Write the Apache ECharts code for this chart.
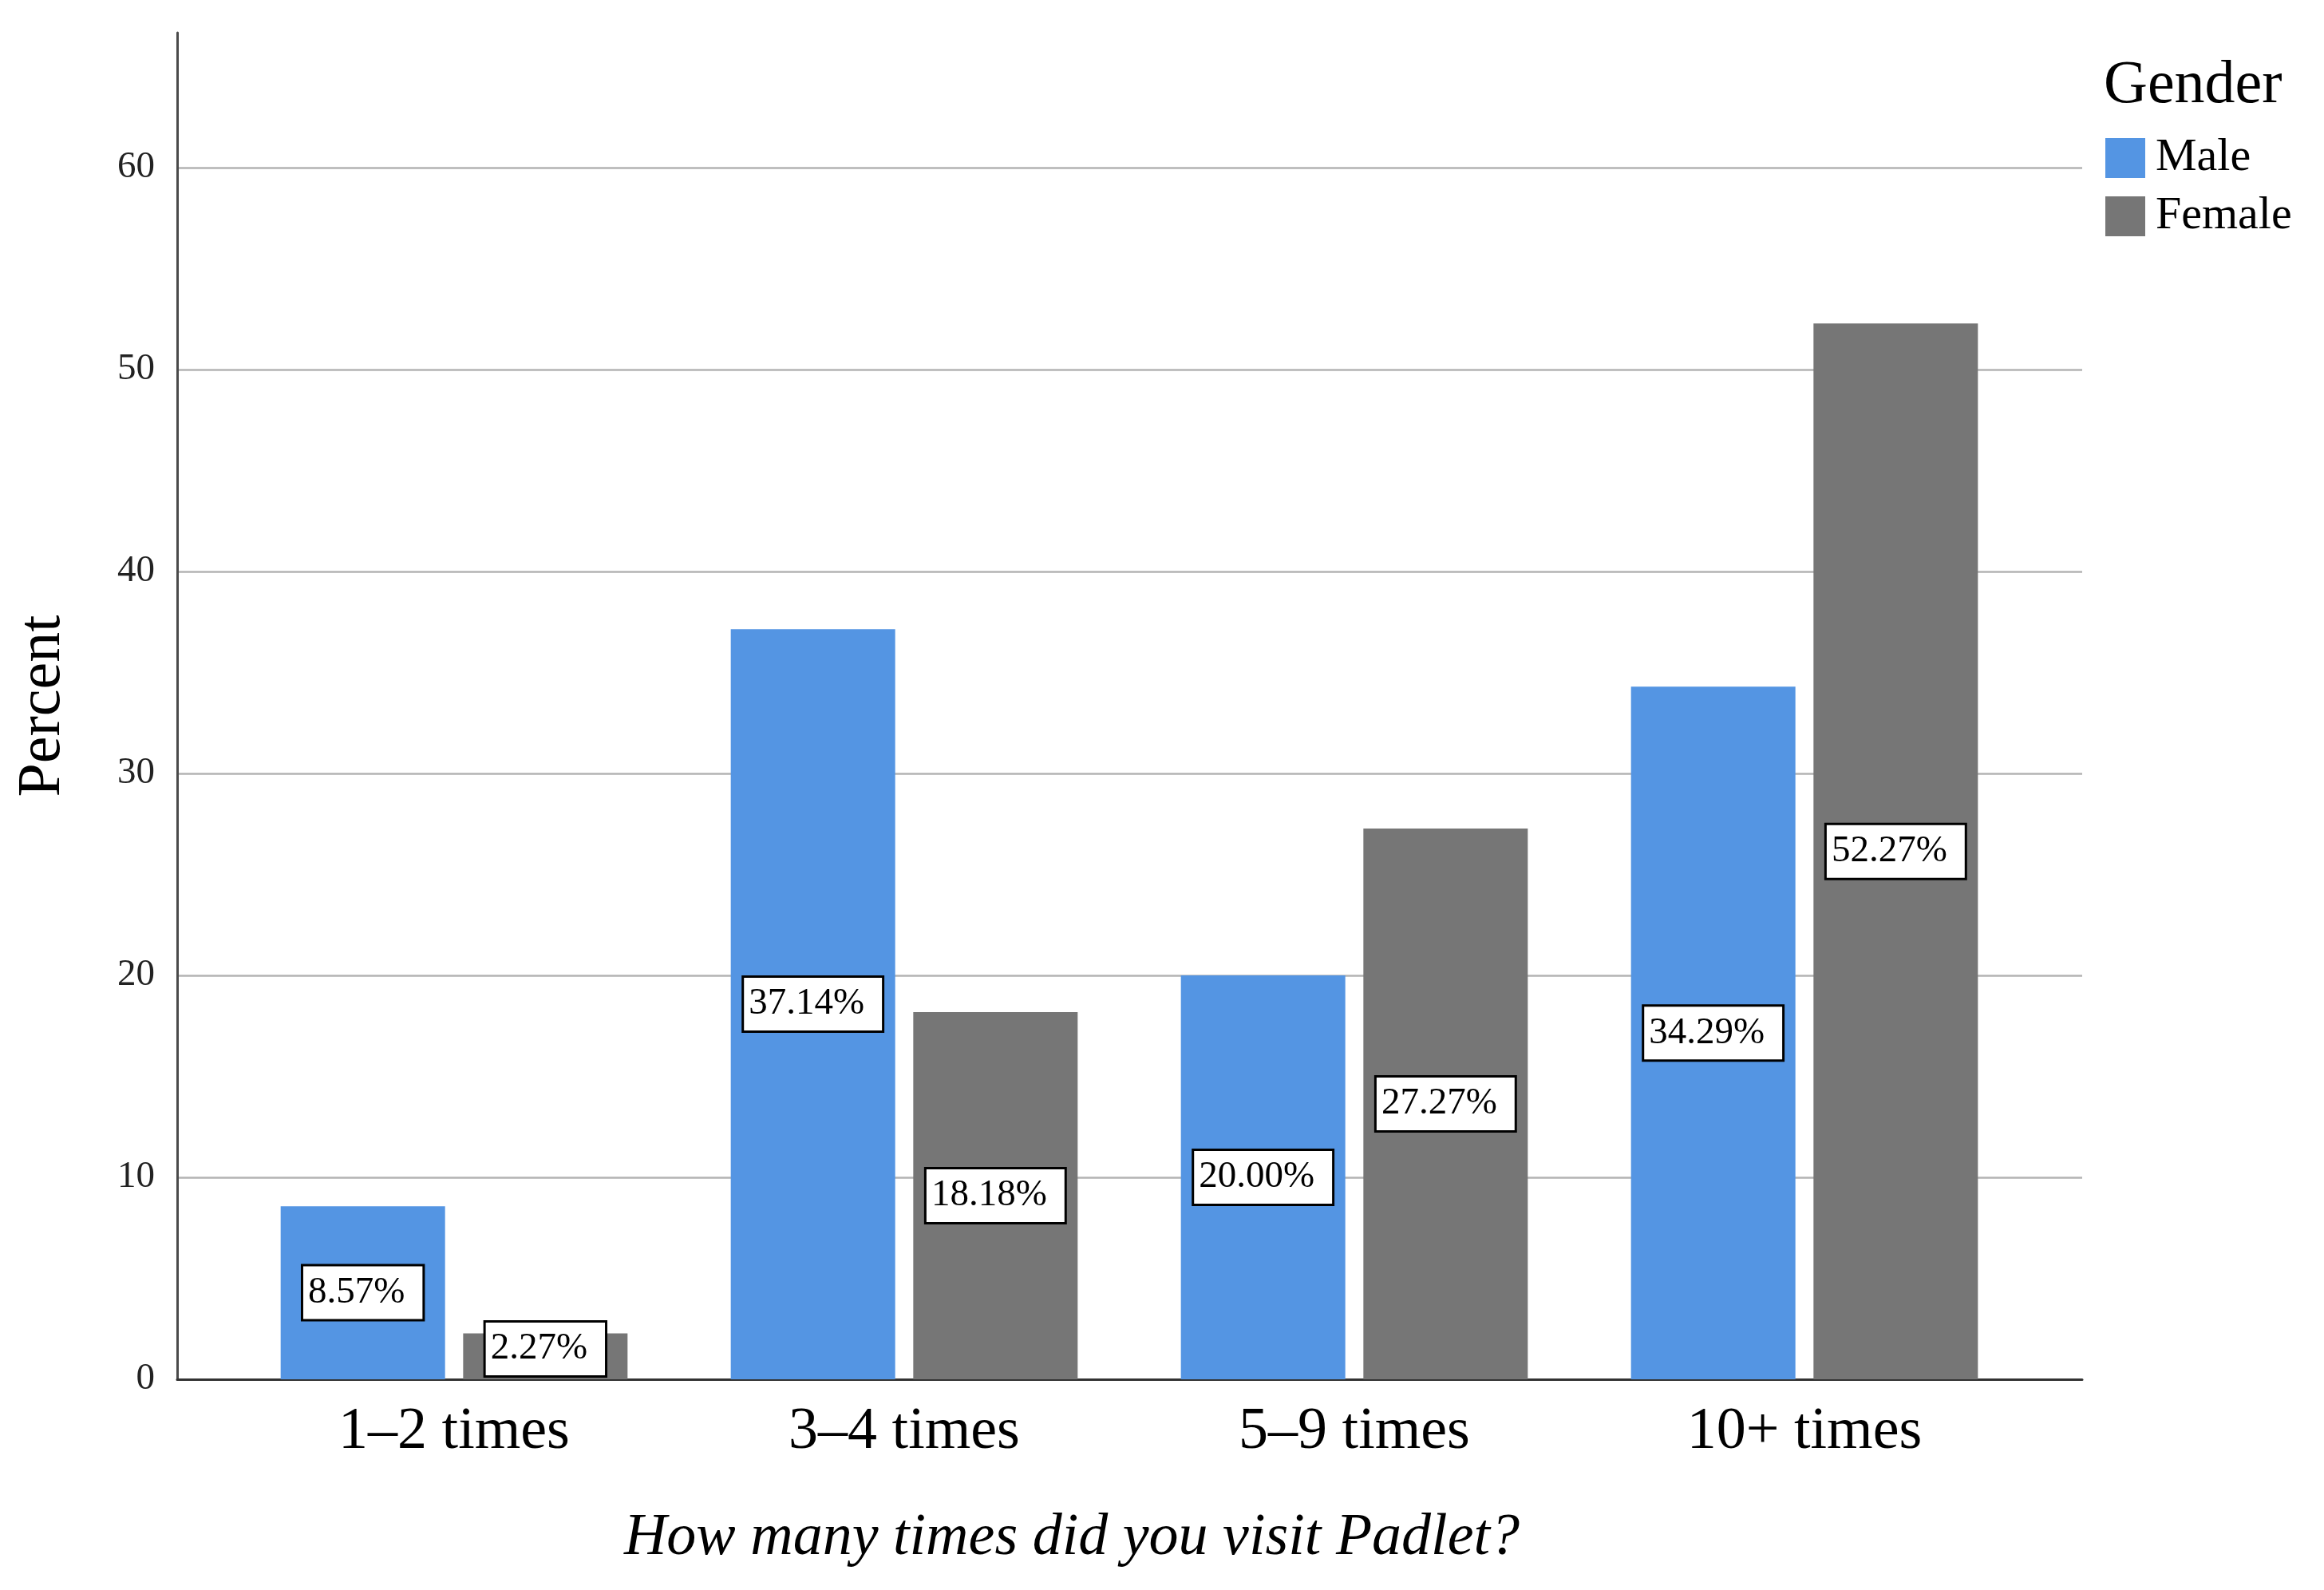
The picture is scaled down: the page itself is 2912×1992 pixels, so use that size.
<!DOCTYPE html>
<html>
<head>
<meta charset="utf-8">
<script src="https://cdn.jsdelivr.net/npm/echarts@6/dist/echarts.min.js"></script>
<style>
html,body{margin:0;padding:0;background:#fff;}
#c{width:2912px;height:1992px;}
</style>
</head>
<body>
<div id="c"></div>
<script>
const categories = ['1–2 times', '3–4 times', '5–9 times', '10+ times'];
const maleValues = [8.57, 37.14, 20.00, 34.29];
const femaleValues = [2.27, 18.18, 27.27, 52.27];
const yTicks = [0, 10, 20, 30, 40, 50, 60];
const seriesNames = ['Male', 'Female'];
const legendTitle = 'Gender';
const yAxisTitle = 'Percent';
const xAxisTitle = 'How many times did you visit Padlet?';

const FONT = '"Liberation Serif", "Times New Roman", serif';
const yMin = 0, yMax = 66.67, yInterval = 10;

const chart = echarts.init(document.getElementById('c'), null, {renderer: 'canvas'});

function yLabel(v) {
  return yTicks.indexOf(v) >= 0 ? String(v) : '';
}

const labelCfg = {
  show: true,
  position: 'inside',
  offset: [0, 5],
  formatter: p => p.value.toFixed(2) + '%',
  fontFamily: FONT,
  fontSize: 47,
  lineHeight: 46,
  color: '#000',
  backgroundColor: '#fff',
  borderColor: '#000',
  borderWidth: 3,
  padding: [11, 22, 9, 6]
};

chart.setOption({
  backgroundColor: '#fff',
  animation: false,
  title: [{
    text: legendTitle,
    left: 2636, top: 70, padding: 0,
    textStyle: {fontFamily: FONT, fontSize: 76, fontWeight: 'normal', color: '#000'}
  }],
  legend: {
    orient: 'vertical',
    left: 2638, top: 169, padding: 0,
    icon: 'rect',
    itemWidth: 50, itemHeight: 50, itemGap: 15,
    data: seriesNames,
    textStyle: {fontFamily: FONT, fontSize: 58, lineHeight: 50, color: '#000', padding: [6, 0, 0, 8]}
  },
  grid: [
    {left: 222, right: 303, top: 41, bottom: 264, containLabel: false},
    {left: 287, right: 369, top: 41, bottom: 264, containLabel: false}
  ],
  xAxis: [
    {
      gridIndex: 0, type: 'value', min: 0, max: 1,
      axisLine: {show: true, onZero: false, lineStyle: {color: '#333', width: 3}},
      axisTick: {show: false}, axisLabel: {show: false}, splitLine: {show: false}
    },
    {
      gridIndex: 1, type: 'category', data: categories,
      axisLine: {show: false}, axisTick: {show: false}, splitLine: {show: false},
      axisLabel: {fontFamily: FONT, fontSize: 74, color: '#000', margin: 30}
    }
  ],
  yAxis: [
    {
      gridIndex: 0, type: 'value', min: yMin, max: yMax, interval: yInterval,
      name: yAxisTitle, nameLocation: 'middle', nameGap: 130,
      nameTextStyle: {fontFamily: FONT, fontSize: 76, color: '#000'},
      axisLine: {show: true, onZero: false, lineStyle: {color: '#4a4a4a', width: 3}},
      axisTick: {show: false},
      axisLabel: {fontFamily: FONT, fontSize: 47, color: '#222', margin: 28, padding: [14, 0, 0, 0], formatter: yLabel, showMaxLabel: false},
      splitLine: {show: true, showMaxLine: false, showMinLine: false, lineStyle: {color: '#b3b3b3', width: 2.5}}
    },
    {
      gridIndex: 1, type: 'value', min: yMin, max: yMax, interval: yInterval,
      axisLine: {show: false}, axisTick: {show: false}, axisLabel: {show: false}, splitLine: {show: false}
    }
  ],
  series: [
    {
      name: seriesNames[0], type: 'bar', xAxisIndex: 1, yAxisIndex: 1,
      data: maleValues, barWidth: 206, barGap: '11%',
      itemStyle: {color: '#5495E3'},
      label: labelCfg
    },
    {
      name: seriesNames[1], type: 'bar', xAxisIndex: 1, yAxisIndex: 1,
      data: femaleValues, barWidth: 206, barGap: '11%',
      itemStyle: {color: '#767676'},
      label: labelCfg
    }
  ],
  labelLayout: function (params) {
    const r = params.labelRect;
    const axisY = chart.convertToPixel({yAxisIndex: 1}, 0);
    if (r.y + r.height > axisY - 2) {
      return {
        x: params.rect.x + params.rect.width / 2,
        y: axisY - 2 - r.height / 2,
        align: 'center',
        verticalAlign: 'middle'
      };
    }
    return {};
  },
  graphic: [{
    type: 'text', x: 1343, y: 1928,
    style: {
      text: xAxisTitle, align: 'center', verticalAlign: 'middle',
      font: 'italic 74px ' + FONT, fill: '#000'
    }
  }]
});
</script>
</body>
</html>
